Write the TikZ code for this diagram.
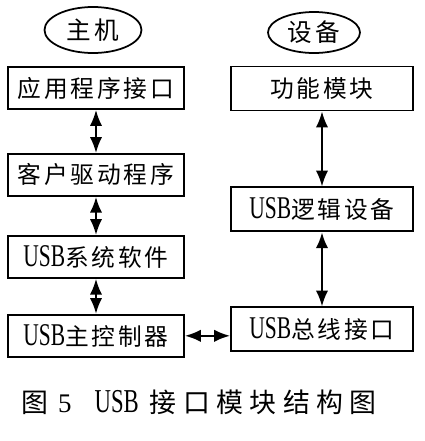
\documentclass[tikz,border=0pt]{standalone}
\usepackage{fontspec}
\setmainfont{Liberation Serif}
\newfontfamily\cjk[LetterSpace=12]{Noto Sans CJK SC}
\newfontfamily\capcjk[LetterSpace=24]{Noto Sans CJK SC}
\newfontfamily\usbfont[FakeStretch=0.68]{Liberation Serif}
\usetikzlibrary{positioning,arrows.meta,shapes.geometric}

\begin{document}
\begin{tikzpicture}[
        node distance=0.8cm,
        every node/.style={font=\fontsize{13.5}{15}\selectfont},
        side/.style={
            draw=black,
            line width=1pt,
            ellipse,
            inner sep=0pt,
            font=\fontsize{14}{16}\selectfont\cjk
        },
        hostbox/.style={
            draw=black,
            line width=1.1pt,
            rectangle,
            inner sep=0pt,
            minimum width=3.52cm,
            minimum height=0.84cm
        },
        devbox/.style={
            hostbox,
            minimum width=3.64cm,
            minimum height=0.88cm
        },
        link/.style={{Latex[length=9pt,width=7pt]}-{Latex[length=9pt,width=7pt]}, line width=1.1pt}
    ]
        \useasboundingbox (0,0) rectangle (8.5,-8.82);

        % host side
        \node[side, minimum width=1.94cm, minimum height=0.92cm] (host) at (1.86,-0.6) {主机};
        \node[hostbox] (api) at (1.92,-1.76) {\cjk 应用程序接口};
        \node[hostbox, below=0.86cm of api] (client) {\cjk 客户驱动程序};
        \node[hostbox, below=0.76cm of client] (syssw) {{\usbfont\fontsize{18}{18}\selectfont USB}\cjk 系统软件};
        \node[hostbox, below=0.7cm of syssw] (hc) {{\usbfont\fontsize{18}{18}\selectfont USB}\cjk 主控制器};

        % device side
        \node[side, minimum width=1.84cm, minimum height=0.82cm] (dev) at (6.28,-0.65) {设备};
        \node[devbox] (func) at (6.44,-1.77) {\cjk 功能模块};
        \node[devbox, below=1.5cm of func] (logic) {{\usbfont\fontsize{18}{18}\selectfont USB}\cjk 逻辑设备};
        \node[devbox, below=1.48cm of logic] (busif) {{\usbfont\fontsize{18}{18}\selectfont USB}\cjk 总线接口};

        % caption
        \node[inner sep=0pt] (cap) at (3.98,-8.04) {\fontsize{15.3}{17}\selectfont{\capcjk 图}\hspace{0.2cm}5\hspace{0.46cm}{\usbfont\fontsize{19}{19}\selectfont USB}\hspace{0.22cm}{\capcjk 接口模块结构图}};

        % links
        \draw[link] (api) -- (client);
        \draw[link] (client) -- (syssw);
        \draw[link] (syssw) -- (hc);
        \draw[link] (func) -- (logic);
        \draw[link] (logic) -- (busif);
        \draw[link] (hc.east) -- (hc.east -| busif.west);

    \end{tikzpicture}
\end{document}
